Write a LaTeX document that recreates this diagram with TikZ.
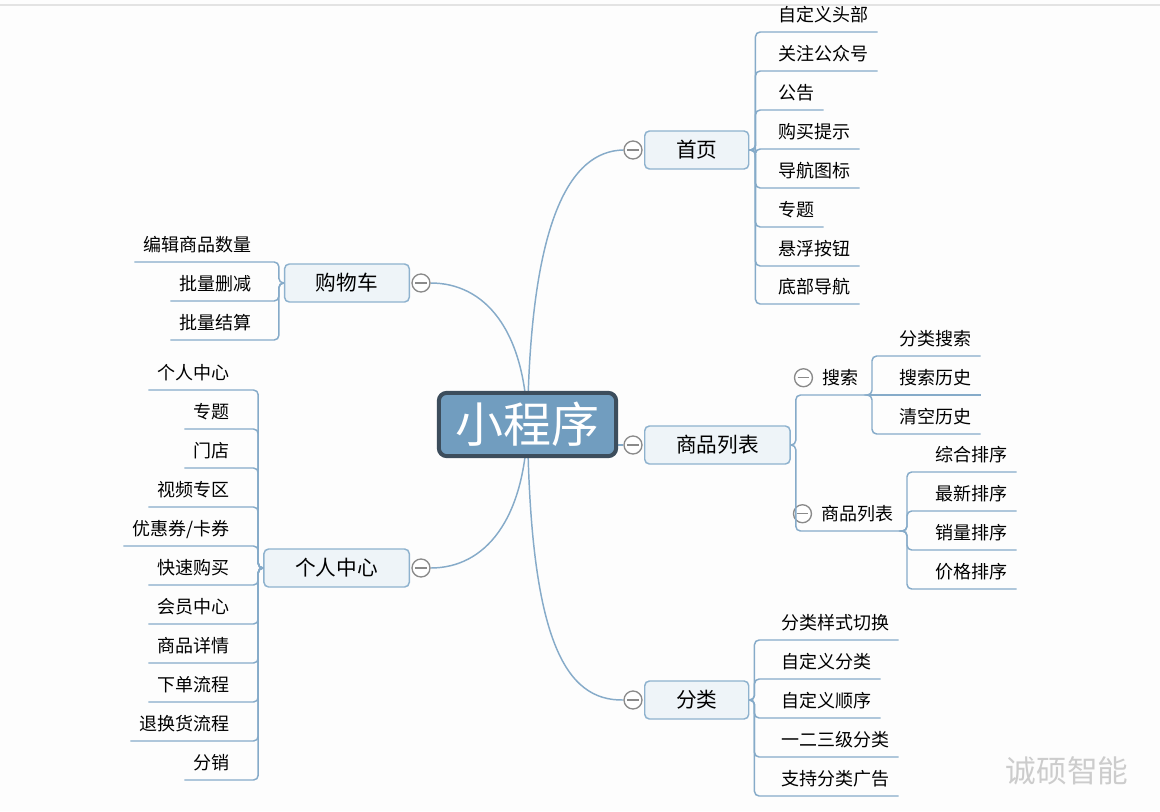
\documentclass[tikz,border=0pt]{standalone}
\usepackage{fontspec}
\setmainfont{Noto Sans CJK SC}
\usetikzlibrary{calc}
\pgfdeclarelayer{canvas}
\pgfdeclarelayer{background}
\pgfsetlayers{canvas,background,main}
\definecolor{lineblue}{HTML}{86ABC9}
\definecolor{boxfill}{HTML}{EEF4F8}
\definecolor{boxline}{HTML}{8EB2CE}
\definecolor{cfill}{HTML}{719DBF}
\definecolor{cline}{HTML}{3C4D5C}
\definecolor{togline}{HTML}{8A8A8A}
\definecolor{bg}{HTML}{FDFDFD}
\begin{document}
\begin{tikzpicture}[x=0.75pt,y=-0.75pt,
  conn/.style={draw=lineblue, line width=1.1pt, rounded corners=3.5pt},
  curve/.style={draw=lineblue, line width=1.1pt},
  leaf/.style={font=\fontsize{13.5}{16}\selectfont, inner xsep=6.75pt, inner ysep=0pt,
    minimum height=25.5pt, text height=11.9pt, text depth=1.6pt},
  branch/.style={font=\fontsize{15.5}{18}\selectfont, draw=boxline, fill=boxfill,
    line width=1.1pt, rounded corners=3.5pt, inner xsep=23.5pt, inner ysep=0pt,
    minimum height=28.5pt, text height=13.6pt, text depth=1.9pt},
  central/.style={font=\fontsize{36}{40}\selectfont, text=white, draw=cline, fill=cfill,
    line width=3pt, rounded corners=6pt, minimum width=133pt, minimum height=47.5pt,
    inner sep=0pt, text height=31.7pt, text depth=4.3pt},
  tog/.style={circle, draw=togline, fill=white, line width=1pt, minimum size=13.5pt,
    inner sep=0pt, path picture={\draw[togline, line width=1pt]
      ([xshift=-4.3pt]path picture bounding box.center) --
      ([xshift=4.3pt]path picture bounding box.center);}}
]
\useasboundingbox (0,0) rectangle (1160,811);
\begin{pgfonlayer}{canvas}
\fill[bg] (0,0) rectangle (1160,811);
\draw[gray!22, line width=0.8pt] (0,5) -- (1160,5);
\end{pgfonlayer}

% central
\node[central] (c) at (527.5,424.5) {小程序};

% branches
\node[branch, anchor=west] (home) at (644,150) {首页};
\node[branch, anchor=east] (cart) at (410,283) {购物车};
\node[branch, anchor=east] (pc) at (410,568) {个人中心};
\node[branch, anchor=west] (sp) at (644,445) {商品列表};
\node[branch, anchor=west] (cat) at (644,700) {分类};

% toggles
\node[tog] (thome) at ([xshift=-8.25pt]home.west) {};
\node[tog] (tcart) at ([xshift=8.25pt]cart.east) {};
\node[tog] (tpc) at ([xshift=8.25pt]pc.east) {};
\node[tog] (tsp) at ([xshift=-8.25pt]sp.west) {};
\node[tog] (tcat) at ([xshift=-8.25pt]cat.west) {};

\begin{pgfonlayer}{background}
\draw[curve] (c.center) .. controls (530,220) and (570,151) .. (thome.west);
\draw[curve] (c.center) .. controls (525,330) and (485,283) .. (tcart.east);
\draw[curve] (c.center) .. controls (525,520) and (485,568) .. (tpc.east);
\draw[curve] (c.center) .. controls (530,640) and (565,701) .. (tcat.west);
\draw[curve] (c.east |- tsp.west) -- (tsp.west);
\end{pgfonlayer}

% home leaves
\foreach \n/\y/\t in {h1/32/自定义头部, h2/71/关注公众号, h3/110/公告, h4/149/购买提示,
  h5/188/导航图标, h6/227/专题, h7/266/悬浮按钮, h8/304/底部导航}{
  \node[leaf, anchor=south west] (\n) at (769,\y) {\t};
  \draw[conn] (home.east) -- ++(6,0) |- (\n.south west) -- (\n.south east);
}

% cart leaves
\foreach \n/\y/\t in {k1/262/编辑商品数量, k2/301/批量删减, k3/340/批量结算}{
  \node[leaf, anchor=south east] (\n) at (261,\y) {\t};
  \draw[conn] (cart.west) -- ++(-5,0) |- (\n.south east) -- (\n.south west);
}

% personal center leaves
\foreach \n/\y/\t in {p1/390/个人中心, p2/429/专题, p3/468/门店, p4/507/视频专区,
  p5/546/{优惠券/卡券}, p6/585/快速购买, p7/624/会员中心, p8/663/商品详情,
  p9/702/下单流程, p10/741/退换货流程, p11/780/分销}{
  \node[leaf, anchor=south east] (\n) at (239,\y) {\t};
  \draw[conn] (pc.west) -- ++(-5,0) |- (\n.south east) -- (\n.south west);
}

% category leaves
\foreach \n/\y/\t in {f1/640/分类样式切换, f2/679/自定义分类, f3/718/自定义顺序,
  f4/757/一二三级分类, f5/796/支持分类广告}{
  \node[leaf, anchor=south west] (\n) at (772,\y) {\t};
  \draw[conn] (cat.east) -- ++(5,0) |- (\n.south west) -- (\n.south east);
}

% product list sub-branches
\node[leaf, anchor=south east] (search) at (868,395) {搜索};
\node[leaf, anchor=south east] (plist) at (903,531) {商品列表};
\node[tog] (tsearch) at ([xshift=-7.5pt]search.west) {};
\node[tog] (tplist) at ([xshift=-7.5pt]plist.west) {};
\draw[conn] (sp.east) -- ++(5,0) |- (search.south east);
\draw[conn] (sp.east) -- ++(5,0) |- (plist.south east);

% search children
\node[leaf, anchor=south west] (s1) at (890,356) {分类搜索};
\node[leaf, anchor=south west] (s2) at (890,395) {搜索历史};
\node[leaf, anchor=south west] (s3) at (890,434) {清空历史};
\draw[conn] (search.south east) -- ++(4,0) |- (s1.south west) -- (s1.south east);
\draw[conn] (search.south east) -- (s2.south west) -- (s2.south east);
\draw[conn] (search.south east) -- ++(4,0) |- (s3.south west) -- (s3.south east);

% sort children
\foreach \n/\y/\t in {r1/472/综合排序, r2/511/最新排序, r3/550/销量排序, r4/589/价格排序}{
  \node[leaf, anchor=south west] (\n) at (926,\y) {\t};
  \draw[conn] (plist.south east) -- ++(4,0) |- (\n.south west) -- (\n.south east);
}

% watermark
\node[font=\fontsize{23}{26}\selectfont, text=gray!40, inner sep=0pt] (wm) at (1067,771) {诚硕智能};
\end{tikzpicture}
\end{document}
